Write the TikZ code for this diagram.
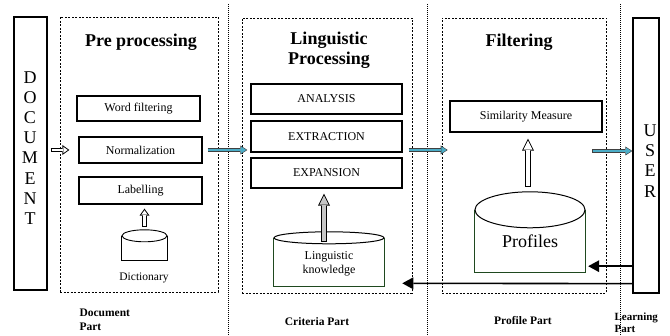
\documentclass[tikz,border=0pt]{standalone}
\usepackage{fontspec}
\setmainfont{Liberation Serif}
\usetikzlibrary{calc}
\usetikzlibrary{arrows.meta}

\definecolor{flowblue}{RGB}{75,172,198}
\definecolor{cylgreen}{RGB}{31,73,31}

\begin{document}
\begin{tikzpicture}[x=1pt,y=-1pt]
\tikzset{box/.style={draw,line width=1.3pt,inner sep=0pt,font=\fontsize{12}{14}\selectfont}}
\tikzset{area/.style={draw,line width=0.6pt,dash pattern=on 2pt off 1.5pt,inner sep=0pt}}
\tikzset{title/.style={font=\fontsize{18}{20}\selectfont\bfseries,align=center}}
\tikzset{part/.style={font=\fontsize{11.5}{14}\selectfont\bfseries,align=left}}
\tikzset{letters/.style={font=\fontsize{18}{20.2}\selectfont,align=center}}
\tikzset{sep/.style={line width=1pt,dash pattern=on 1pt off 1pt}}
% block arrows: outline first, then the inside drawn again on top
\tikzset{hollow/.style={line width=4.5pt,-{Triangle[length=7pt,width=10pt,line width=0pt]},
  postaction={draw=#1,line width=2.6pt,shorten <=0.95pt,shorten >=1.63pt,-{Triangle[length=4.4pt,width=6.3pt,line width=0pt]}}},
  hollow/.default=white}
\tikzset{bighollow/.style={line width=6pt,-{Triangle[length=12pt,width=12pt,line width=0pt]},
  postaction={draw=#1,line width=4.2pt,shorten <=0.9pt,shorten >=2pt,-{Triangle[length=9.1pt,width=9.1pt,line width=0pt]}}},
  bighollow/.default=white}
\tikzset{flow/.style={draw=black!75,line width=4pt,-{Triangle[length=7pt,width=9pt,line width=0pt]},
  postaction={draw=flowblue,line width=2.8pt,shorten <=0.6pt,shorten >=1.1pt,-{Triangle[length=5.3pt,width=6.8pt,line width=0pt]}}}}
\tikzset{back/.style={line width=1.6pt,-{Triangle[length=11pt,width=12pt,line width=0pt]}}}

\useasboundingbox (0,0) rectangle (670,336);

% separators between the parts
\foreach \x in {228,427,620}
  \draw[sep] (\x,4) -- (\x,336);

% document and user
\node[box,minimum width=33pt,minimum height=273pt] (doc) at (30.5,153.5) {};
\node[letters] (doctxt) at (30,148) {D\\O\\C\\U\\M\\E\\N\\T};
\node[box,minimum width=26pt,minimum height=275pt] (user) at (646,155.5) {};
\node[letters] (usertxt) at (650,161) {U\\S\\E\\R};

% the three stages
\node[area,minimum width=158pt,minimum height=275pt] (pre) at (139,154.5) {};
\node[area,minimum width=170pt,minimum height=275pt] (ling) at (327,155.5) {};
\node[area,minimum width=164pt,minimum height=275pt] (filt) at (524,155.5) {};

\node[title] (pretitle) at (141,42) {Pre processing};
\node[title] (lingtitle) at (329,50) {Linguistic\\Processing};
\node[title] (filttitle) at (519,42) {Filtering};

% pre processing
\node[box,minimum width=123pt,minimum height=25pt] (wf) at (138.5,108.5) {Word filtering};
\node[box,minimum width=123pt,minimum height=26pt] (norm) at (140.5,150) {Normalization};
\node[box,minimum width=123pt,minimum height=27pt] (lab) at (140.5,190.5) {Labelling};

\node[minimum width=45pt,minimum height=24pt,inner sep=0pt] (dict) at (144.5,248) {};
\draw[line width=0.9pt] (dict.north west) -- (dict.south west) -- (dict.south east) -- (dict.north east);
\draw[line width=0.9pt,fill=white] (dict.north) ellipse [x radius=22.5pt,y radius=6pt];
\node[font=\fontsize{11.5}{14}\selectfont] (dicttxt) at (144,278) {Dictionary};

% linguistic processing
\node[box,minimum width=151pt,minimum height=30pt] (ana) at (326.5,99) {ANALYSIS};
\node[box,minimum width=151pt,minimum height=31pt] (extr) at (326.5,136.5) {EXTRACTION};
\node[box,minimum width=151pt,minimum height=30pt] (expa) at (326.5,173) {EXPANSION};

\node[minimum width=110pt,minimum height=48pt,inner sep=0pt,align=center,
  font=\fontsize{12}{13.5}\selectfont] (kno) at (329,262) {\\[-2pt]Linguistic\\knowledge};
\draw[cylgreen,line width=1.2pt] (kno.north west) -- (kno.south west) -- (kno.south east) -- (kno.north east);
\draw[line width=1pt,fill=white] (kno.north) ellipse [x radius=55pt,y radius=6pt];

% filtering
\node[box,minimum width=152pt,minimum height=31pt] (sim) at (526,116.5) {Similarity Measure};

\node[minimum width=110pt,minimum height=62pt,inner sep=0pt,
  font=\fontsize{18}{20}\selectfont] (prof) at (530,241) {Profiles};
\draw[cylgreen,line width=1.2pt] (prof.north west) -- (prof.south west) -- (prof.south east) -- (prof.north east);
\draw[line width=1pt,fill=white] (prof.north) ellipse [x radius=55pt,y radius=18pt];

% hollow arrows
\draw[hollow] ($(doc.east |- norm.west)+(3,0)$) -- ($(norm.west)+(-9,0)$);
\draw[hollow] ($(dict.north)+(0,-9)$) -- ($(dict.north |- lab.south)+(0,4)$);
\draw[bighollow=gray!45] ($(kno.north)+(-5,4)$) -- ($(kno.north |- expa.south)+(-5,5)$);
\draw[bighollow] ($(prof.north)+(-2,-23)$) -- ($(prof.north |- sim.south)+(-2,6)$);

% flow between the parts
\draw[flow] ($(norm.east)+(5,0)$) -- ($(norm.east -| extr.west)+(-3,0)$);
\draw[flow] ($(norm.east -| extr.east)+(6,0)$) -- ($(norm.east -| filt.west)+(6,0)$);
\draw[flow] ($(norm.east -| user.west)+(-40,1)$) -- ($(norm.east -| user.west)+(0,1)$);

% feedback from the user
\draw[back] ($(user.west |- prof.south)+(0,-6)$) -- ($(prof.south east)+(3,-6)$);
\draw[back] ($(user.south west)+(0,-10)$) -- ($(ling.south east)+(-10,-10)$);

% part names
\node[part,anchor=north west] (docpart) at (76,305) {Document\\Part};
\node[part] (critpart) at (317,322) {Criteria Part};
\node[part] (profpart) at (523,321) {Profile Part};
\node[part,anchor=north west,font=\fontsize{11}{12}\selectfont\bfseries] (learnpart) at (611,309) {Learning\\Part};
\end{tikzpicture}
\end{document}
